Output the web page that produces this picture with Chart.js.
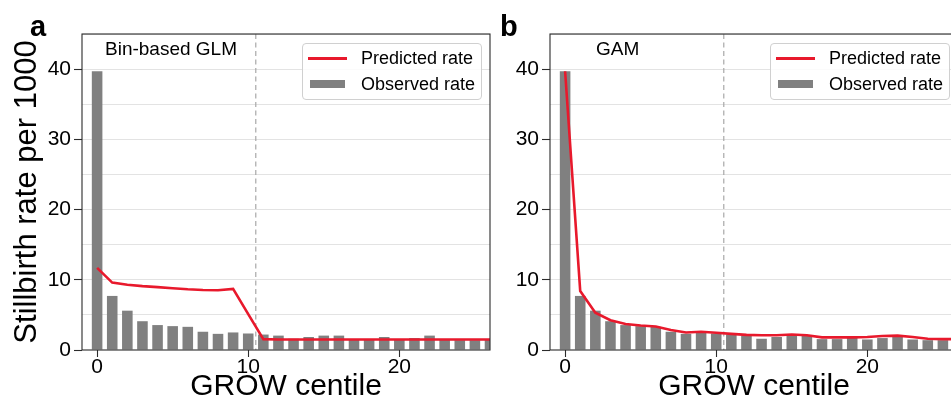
<!DOCTYPE html>
<html>
<head>
<meta charset="utf-8">
<script src="https://cdn.jsdelivr.net/npm/chart.js@4.4.0/dist/chart.umd.min.js"></script>
<style>
  html, body { margin: 0; padding: 0; background: #fff; overflow: hidden; width: 951px; height: 410px; }
  .wrap { position: absolute; top: 0; height: 410px; }
  canvas { display: block; }
  .txt { position: absolute; font-family: "Liberation Sans", Arial, sans-serif; color: #000; white-space: nowrap; }
  .letter { font-weight: bold; font-size: 29px; line-height: 1; }
  .note { font-size: 19px; line-height: 1; }
  .legend { position: absolute; border: 1px solid #d0d0d0; border-radius: 4px; background: rgba(255,255,255,0.85);
            font-family: "Liberation Sans", Arial, sans-serif; font-size: 18px; }
  .row { position: absolute; left: 0; height: 22px; line-height: 22px; }
  .sw-line { position: absolute; width: 39px; height: 2.6px; background: #e8192c; }
  .sw-bar { position: absolute; width: 35px; height: 8px; background: #808080; }
</style>
</head>
<body>
<script>
// ---- data ----
const centiles = [0,1,2,3,4,5,6,7,8,9,10,11,12,13,14,15,16,17,18,19,20,21,22,23,24,25,26];
const observedRate = [39.7,7.7,5.6,4.1,3.55,3.4,3.3,2.6,2.3,2.5,2.35,2.2,2.05,1.6,1.85,2.05,2.05,1.55,1.55,1.85,1.5,1.7,2.05,1.5,1.4,1.4,1.45];
const glmPredicted = [11.7,9.6,9.3,9.1,8.95,8.8,8.65,8.55,8.5,8.7,5.1,1.55,1.5,1.5,1.5,1.5,1.5,1.5,1.5,1.5,1.5,1.5,1.5,1.5,1.5,1.5,1.5];
const gamPredicted = [39.7,8.4,5.3,4.25,3.7,3.5,3.35,2.85,2.5,2.6,2.45,2.3,2.15,2.1,2.1,2.2,2.1,1.8,1.8,1.8,1.85,2.0,2.05,1.85,1.6,1.55,1.55];
const xTicks = [0,10,20];
const yTicks = [0,5,10,15,20,25,30,35,40,45];
const yLabelTicks = [0,10,20,30,40];
const cutoffCentile = 10.5;
const panels = [
  { letter: 'a', note: 'Bin-based GLM', predicted: glmPredicted },
  { letter: 'b', note: 'GAM', predicted: gamPredicted }
];
const seriesNames = ['Predicted rate', 'Observed rate'];

const FONT = '"Liberation Sans", Arial, sans-serif';
const RED = '#e8192c';
const GREY = '#808080';

const decorPlugin = {
  id: 'decor',
  beforeDatasetsDraw(chart) {
    const {ctx, chartArea, scales} = chart;
    const x = scales.x.getPixelForValue(cutoffCentile);
    ctx.save();
    ctx.beginPath();
    ctx.rect(chartArea.left, chartArea.top, chartArea.right - chartArea.left, chartArea.bottom - chartArea.top);
    ctx.clip();
    ctx.strokeStyle = '#a8a8a8';
    ctx.lineWidth = 1.2;
    ctx.setLineDash([5, 3.5]);
    ctx.beginPath();
    ctx.moveTo(x, chartArea.top);
    ctx.lineTo(x, chartArea.bottom);
    ctx.stroke();
    ctx.restore();
  },
  afterDraw(chart) {
    const {ctx, chartArea} = chart;
    ctx.save();
    ctx.strokeStyle = '#2b2b2b';
    ctx.lineWidth = 1.1;
    ctx.strokeRect(chartArea.left, chartArea.top, chartArea.right - chartArea.left, chartArea.bottom - chartArea.top);
    ctx.restore();
  }
};

function makePanel(idx, left, width, yAxisWidth, rightPad) {
  const p = panels[idx];
  const wrap = document.createElement('div');
  wrap.className = 'wrap';
  wrap.style.left = left + 'px';
  wrap.style.width = width + 'px';
  const canvas = document.createElement('canvas');
  canvas.width = width; canvas.height = 410;
  canvas.style.width = width + 'px'; canvas.style.height = '410px';
  wrap.appendChild(canvas);
  document.body.appendChild(wrap);

  new Chart(canvas.getContext('2d'), {
    data: {
      datasets: [
        {
          type: 'line', label: seriesNames[0], order: 0,
          data: centiles.map((c, i) => ({x: c, y: p.predicted[i]})),
          borderColor: RED, borderWidth: 2.6, pointRadius: 0, tension: 0, fill: false
        },
        {
          type: 'bar', label: seriesNames[1], order: 1,
          data: centiles.map((c, i) => ({x: c, y: observedRate[i]})),
          backgroundColor: GREY, borderWidth: 0,
          barPercentage: 0.7, categoryPercentage: 1.0
        }
      ]
    },
    options: {
      responsive: false, animation: false,
      layout: { padding: { left: 0, top: 34, right: rightPad, bottom: 0 } },
      plugins: { legend: { display: false }, tooltip: { enabled: false } },
      scales: {
        x: {
          type: 'linear', min: -1, max: 26, offset: false,
          afterBuildTicks: s => { s.ticks = xTicks.map(v => ({value: v})); },
          afterFit: s => { s.height = 60; },
          grid: { offset: false, drawOnChartArea: false, drawTicks: true, tickLength: 7, tickColor: '#2b2b2b', tickWidth: 1.1 },
          border: { display: false },
          ticks: { color: '#000', padding: -2, font: { family: FONT, size: 21 }, maxRotation: 0, autoSkip: false },
          title: { display: true, text: 'GROW centile', color: '#000',
                  font: { family: FONT, size: 30, lineHeight: 1 }, padding: { top: 0, bottom: 8 } }
        },
        y: {
          min: 0, max: 45,
          afterBuildTicks: s => { s.ticks = yTicks.map(v => ({value: v})); },
          afterFit: s => { s.width = yAxisWidth; },
          grid: {
            color: ctx => (ctx.tick && ctx.tick.value === 0) ? 'rgba(0,0,0,0)' : '#e3e3e3',
            lineWidth: 1,
            tickLength: 8, tickWidth: 1.1,
            tickColor: ctx => (ctx.tick && yLabelTicks.includes(ctx.tick.value)) ? '#2b2b2b' : 'rgba(0,0,0,0)'
          },
          border: { display: false },
          ticks: {
            color: '#000', padding: 3, font: { family: FONT, size: 21 }, autoSkip: false,
            callback: v => yLabelTicks.includes(v) ? String(v) : ''
          },
          title: idx === 0 ? { display: true, text: 'Stillbirth rate per 1000', color: '#000',
                  font: { family: FONT, size: 31, lineHeight: 1 }, padding: { top: 12, bottom: 0 } } : { display: false }
        }
      }
    },
    plugins: [decorPlugin]
  });
  return wrap;
}

makePanel(0, 0, 500, 82, 10);
makePanel(1, 500, 460, 50, 2);

function addText(cls, text, x, y) {
  const d = document.createElement('div');
  d.className = 'txt ' + cls;
  d.textContent = text;
  d.style.left = x + 'px';
  d.style.top = y + 'px';
  document.body.appendChild(d);
}
addText('letter', panels[0].letter, 30, 12);
addText('letter', panels[1].letter, 500, 12);
addText('note', panels[0].note, 105, 39);
addText('note', panels[1].note, 596, 39);

function addLegend(x) {
  const lg = document.createElement('div');
  lg.className = 'legend';
  lg.style.left = x + 'px'; lg.style.top = '43px';
  lg.style.width = '178px'; lg.style.height = '55px';
  const r1 = document.createElement('div'); r1.className = 'row'; r1.style.top = '3px'; r1.style.width = '178px';
  const s1 = document.createElement('div'); s1.className = 'sw-line'; s1.style.left = '5px'; s1.style.top = '10px';
  const t1 = document.createElement('div'); t1.style.position = 'absolute'; t1.style.left = '58px'; t1.textContent = seriesNames[0];
  r1.appendChild(s1); r1.appendChild(t1);
  const r2 = document.createElement('div'); r2.className = 'row'; r2.style.top = '29px'; r2.style.width = '178px';
  const s2 = document.createElement('div'); s2.className = 'sw-bar'; s2.style.left = '7px'; s2.style.top = '7px';
  const t2 = document.createElement('div'); t2.style.position = 'absolute'; t2.style.left = '58px'; t2.textContent = seriesNames[1];
  r2.appendChild(s2); r2.appendChild(t2);
  lg.appendChild(r1); lg.appendChild(r2);
  document.body.appendChild(lg);
}
addLegend(302);
addLegend(770);
</script>
</body>
</html>
